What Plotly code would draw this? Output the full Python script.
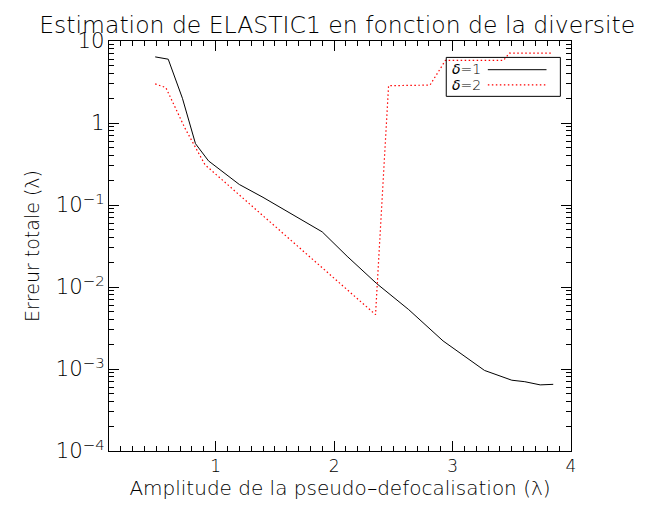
import plotly.graph_objects as go

# delta = 1 (solid black)
x_d1 = [0.49, 0.60, 0.72, 0.83, 0.94, 1.20, 1.40, 1.63, 1.90, 2.11, 2.36, 2.63, 2.92, 3.27, 3.50, 3.61, 3.74, 3.85]
y_d1 = [6.4, 6.0, 2.0, 0.56, 0.345, 0.178, 0.124, 0.079, 0.047, 0.0237, 0.011, 0.0053, 0.0022, 0.00096, 0.00073, 0.0007, 0.00064, 0.00065]

# delta = 2 (dotted red)
x_d2 = [0.49, 0.58, 0.74, 0.83, 0.91, 2.35, 2.46, 2.81, 2.94, 3.43, 3.48, 3.85]
y_d2 = [3.0, 2.7, 0.87, 0.50, 0.31, 0.0046, 2.85, 2.9, 5.8, 5.8, 7.1, 7.1]

legend_labels = ["<i>δ</i>=1", "<i>δ</i>=2"]
title_text = "Estimation de ELASTIC1 en fonction de la diversite"
x_title = "Amplitude de la pseudo\u2013defocalisation (λ)"
y_title = "Erreur totale (λ)"

FONT = "DejaVu Sans"
X_RANGE = [0.1, 4]
Y_RANGE = [-4, 1]
W = 200  # light weight, close to the thin vector font of the original
MINOR_COLOR = "black"

fig = go.Figure()
fig.add_trace(go.Scatter(x=x_d1, y=y_d1, mode="lines", name=legend_labels[0],
                         line=dict(color="black", width=1), showlegend=False))
fig.add_trace(go.Scatter(x=x_d2, y=y_d2, mode="lines", name=legend_labels[1],
                         line=dict(color="red", width=1.2, dash="1.5px,2.5px"), showlegend=False))
# invisible carrier trace for the axis that draws the logarithmic minor ticks
fig.add_trace(go.Scatter(x=x_d1, y=y_d1, yaxis="y2", mode="lines",
                         line=dict(width=0), opacity=0, hoverinfo="skip", showlegend=False))

axis_common = dict(showgrid=False, zeroline=False, showline=True, linecolor="black",
                   linewidth=1, mirror="ticks", ticks="inside", ticklen=10, tickwidth=1.2,
                   tickcolor="black", automargin=False,
                   tickfont=dict(family=FONT, size=17, color="black", weight=W))

fig.update_layout(
    xaxis=dict(range=X_RANGE, tickmode="linear", tick0=0, dtick=1,
               minor=dict(ticks="inside", ticklen=5, tickcolor=MINOR_COLOR, tickwidth=1, dtick=0.1, tick0=0),
               title=dict(text=x_title, font=dict(family=FONT, size=20, color="black", weight=W), standoff=4),
               **axis_common),
    yaxis=dict(type="log", range=Y_RANGE, dtick=1, exponentformat="power",
               title=dict(text=y_title, font=dict(family=FONT, size=19, color="black", weight=W), standoff=10),
               **axis_common),
    yaxis2=dict(overlaying="y", type="log", range=Y_RANGE, dtick="D1", automargin=False,
                showticklabels=False, ticks="inside", ticklen=5, tickcolor=MINOR_COLOR, tickwidth=1,
                showline=False, mirror="ticks", showgrid=False, zeroline=False, side="left"),
)

# legend box drawn manually (text left, sample line right)
fig.add_shape(type="rect", xref="paper", yref="paper", x0=0.730, x1=0.977, y0=0.865, y1=0.960,
              line=dict(color="black", width=1), fillcolor="rgba(0,0,0,0)")
fig.add_shape(type="line", xref="paper", yref="paper", x0=0.820, x1=0.947, y0=0.930, y1=0.930,
              line=dict(color="black", width=1))
fig.add_shape(type="line", xref="paper", yref="paper", x0=0.820, x1=0.947, y0=0.893, y1=0.893,
              line=dict(color="red", width=1.2, dash="1.5px,2.5px"))
for lab, yy in zip(legend_labels, [0.932, 0.893]):
    fig.add_annotation(text=lab, xref="paper", yref="paper", x=0.738, y=yy, xanchor="left",
                       yanchor="middle", showarrow=False,
                       font=dict(family=FONT, size=14, color="black", weight=W))

fig.update_layout(
    width=652, height=509,
    margin=dict(l=101, r=89, t=33, b=66),
    paper_bgcolor="white", plot_bgcolor="white",
    title=dict(text=title_text, x=0.505, xanchor="center", yref="container", y=0.968, yanchor="middle",
               font=dict(family=FONT, size=23.5, color="black", weight=W)),
)

fig.write_html("out.html")
